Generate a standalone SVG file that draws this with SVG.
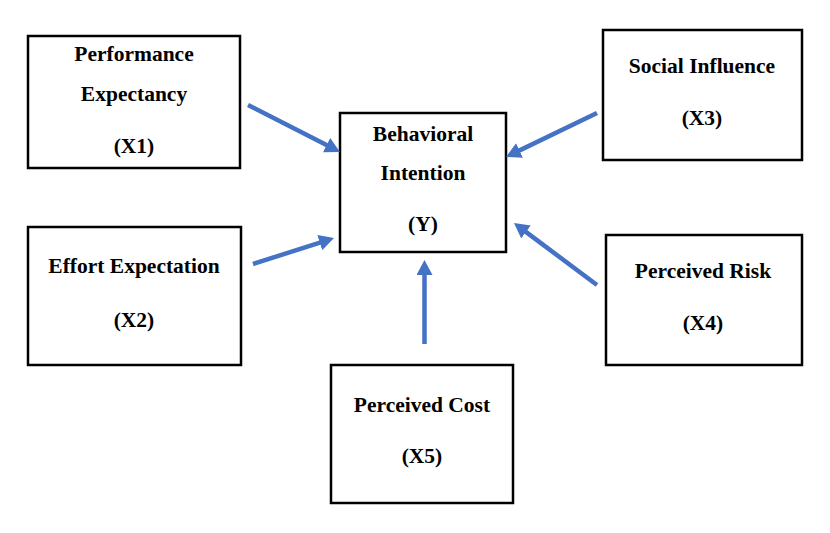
<svg xmlns="http://www.w3.org/2000/svg" width="830" height="533" viewBox="0 0 830 533">
<defs>
<style>
.box{fill:#fff;stroke:#000;stroke-width:2.5}
.t{font-family:"Liberation Serif","Times New Roman",serif;font-weight:bold;font-size:21.5px;text-anchor:middle;fill:#000}
.c{stroke:#4472C4;stroke-width:4.5;fill:none;marker-end:url(#ah)}
</style>
<marker id="ah" viewBox="0 0 15 16" refX="1" refY="8" markerWidth="15" markerHeight="16" markerUnits="userSpaceOnUse" orient="auto">
<path d="M0,0 L15,8 L0,16 z" fill="#4472C4"/>
</marker>
</defs>
<rect width="830" height="533" fill="#fff"/>
<g id="x1">
<rect class="box" x="28" y="36" width="212" height="132"/>
<text class="t" x="134" y="61">Performance</text>
<text class="t" x="134" y="101">Expectancy</text>
<text class="t" x="134" y="153">(X1)</text>
</g>
<g id="y">
<rect class="box" x="340" y="113" width="166" height="139"/>
<text class="t" x="423" y="141">Behavioral</text>
<text class="t" x="423" y="180">Intention</text>
<text class="t" x="423" y="231">(Y)</text>
</g>
<g id="x3">
<rect class="box" x="603" y="30" width="199" height="130"/>
<text class="t" x="702" y="73">Social Influence</text>
<text class="t" x="702" y="125">(X3)</text>
</g>
<g id="x2">
<rect class="box" x="28" y="227" width="213" height="138"/>
<text class="t" x="134" y="273">Effort Expectation</text>
<text class="t" x="134" y="327">(X2)</text>
</g>
<g id="x4">
<rect class="box" x="606" y="235" width="196" height="130"/>
<text class="t" x="703" y="278">Perceived Risk</text>
<text class="t" x="703" y="330">(X4)</text>
</g>
<g id="x5">
<rect class="box" x="331" y="365" width="182" height="138"/>
<text class="t" x="422" y="412">Perceived Cost</text>
<text class="t" x="422" y="463">(X5)</text>
</g>
<g id="connectors">
<line class="c" x1="248" y1="105" x2="327.5" y2="145.6"/>
<line class="c" x1="253" y1="264" x2="320.7" y2="242.3"/>
<line class="c" x1="597" y1="113" x2="518.6" y2="150.9"/>
<line class="c" x1="597" y1="285" x2="525.2" y2="231.4"/>
<line class="c" x1="424.5" y1="344" x2="424.5" y2="274"/>
</g>
</svg>
